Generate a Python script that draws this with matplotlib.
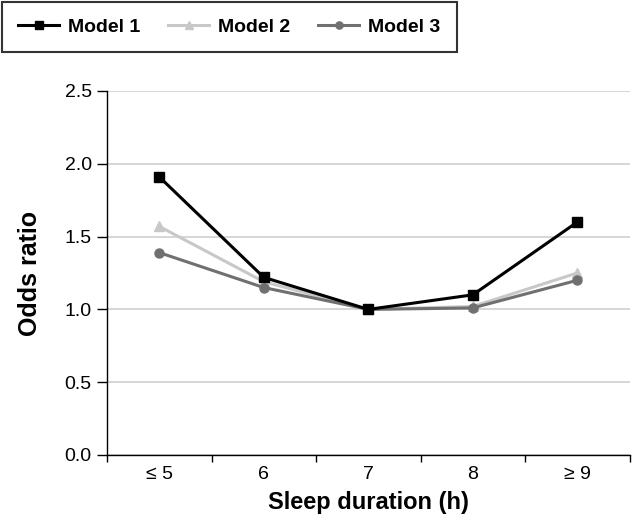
import numpy as np
import matplotlib.pyplot as plt
from matplotlib.ticker import FixedLocator

plt.rcParams['font.family'] = ['Liberation Sans', 'DejaVu Sans']

categories = ['≤ 5', '6', '7', '8', '≥ 9']
model1 = [1.91, 1.22, 1.00, 1.10, 1.60]
model2 = [1.57, 1.19, 1.00, 1.02, 1.25]
model3 = [1.39, 1.15, 1.00, 1.01, 1.20]
y_ticks = [0.0, 0.5, 1.0, 1.5, 2.0, 2.5]

fig = plt.figure(figsize=(6.35, 5.26), dpi=100)
ax = fig.add_axes([0.1685, 0.135, 0.823, 0.692])

x = np.arange(len(categories))
l1, = ax.plot(x, model1, color='black', lw=2.2, marker='s', ms=7, label='Model 1', zorder=5)
l2, = ax.plot(x, model2, color='#c8c8c8', lw=2.2, marker='^', ms=7, label='Model 2', zorder=3)
l3, = ax.plot(x, model3, color='#707070', lw=2.2, marker='o', ms=6.5, label='Model 3', zorder=4)

ax.set_xlim(-0.5, len(categories) - 0.5)
ax.set_ylim(0, 2.5)
ax.set_yticks(y_ticks)
ax.set_yticklabels([f'{v:.1f}' for v in y_ticks], fontsize=14)
ax.set_xticks(x)
ax.set_xticklabels(categories, fontsize=14)
ax.tick_params(axis='x', which='major', length=0, pad=8)
ax.xaxis.set_minor_locator(FixedLocator(np.arange(-0.5, len(categories), 1.0)))
ax.tick_params(axis='x', which='minor', length=5, width=1, direction='out')
ax.tick_params(axis='y', length=7, width=1, direction='out', pad=4)

ax.grid(axis='y', color='#d0d0d0', lw=1.2)
ax.set_axisbelow(True)
for s in ['top', 'right']:
    ax.spines[s].set_visible(False)
ax.spines['left'].set_linewidth(1)
ax.spines['bottom'].set_linewidth(1)

ax.set_ylabel('Odds ratio', fontsize=18, fontweight='bold', labelpad=16)
ax.set_xlabel('Sleep duration (h)', fontsize=17, fontweight='bold', labelpad=6)

leg = fig.legend(handles=[l1, l2, l3], loc='upper left', bbox_to_anchor=(0.003, 0.997),
                 borderaxespad=0, ncol=3, prop={'weight': 'bold', 'size': 14},
                 frameon=True, fancybox=False, edgecolor='black',
                 handlelength=2.1, handletextpad=0.45, columnspacing=1.45,
                 borderpad=0.85, markerscale=0.8)
leg.get_frame().set_linewidth(1.5)

fig.savefig('out.png', dpi=100)
